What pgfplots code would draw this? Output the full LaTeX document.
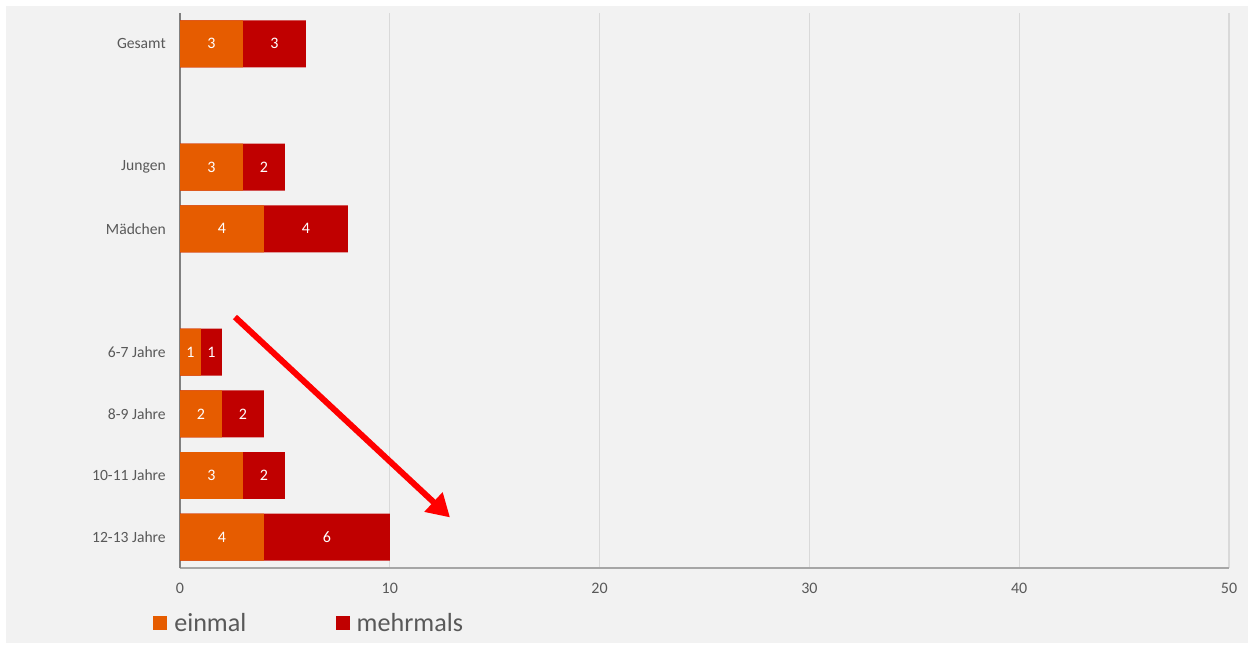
\documentclass[border=0pt]{standalone}
\usepackage{fontspec}
\setmainfont{Carlito}
\usepackage{pgfplots}
\usepackage{pgfplotstable}
\pgfplotsset{compat=1.18}
\usetikzlibrary{arrows.meta}
\definecolor{einmal}{HTML}{E65C00}
\definecolor{mehrmals}{HTML}{C00000}
\definecolor{bg}{HTML}{F2F2F2}
\definecolor{txt}{HTML}{595959}
\definecolor{gridc}{HTML}{D9D9D9}
\definecolor{xax}{HTML}{A6A6A6}
\definecolor{yax}{HTML}{808080}

\pgfplotstableread{
y einmal mehrmals
8 3 3
6 3 2
5 4 4
3 1 1
2 2 2
1 3 2
0 4 6
}\datatable

\pgfplotsset{sqlegend/.style={legend image code/.code={\fill[##1] (0pt,-5.25pt) rectangle (10.5pt,5.25pt);}}}

\begin{document}
\begin{tikzpicture}
\fill[white] (0pt,0pt) rectangle (938.25pt,484.5pt);
\fill[bg] (4.5pt,2.25pt) rectangle (936pt,480pt);
\begin{axis}[
  /pgf/number format/assume math mode=true,
  at={(135pt,58.5pt)}, anchor=south west,
  scale only axis, width=786.75pt, height=416.25pt,
  xmin=0, xmax=50, ymin=-0.5, ymax=8.5,
  xtick={0,10,...,50}, ytick={0,1,2,3,5,6,8},
  yticklabels={12-13 Jahre,10-11 Jahre,8-9 Jahre,6-7 Jahre,Mädchen,Jungen,Gesamt},
  major tick length=0pt,
  xmajorgrids, grid style={gridc, line width=0.9pt},
  axis x line=bottom, axis y line=left, axis line style={-},
  x axis line style={color=xax, line width=1.6pt},
  y axis line style={color=yax, line width=1pt},
  tick label style={text=txt},
  yticklabel style={font=\fontsize{11.7}{14}\selectfont, inner sep=0pt, xshift=-10.5pt},
  xticklabel style={font=\fontsize{12}{14}\selectfont, inner sep=0pt, yshift=-11pt},
  bar width=0.76,
  legend columns=2, reverse legend,
  legend style={at={(0,0)}, anchor=west, xshift=-20.25pt, yshift=-41.25pt,
    draw=none, fill=none, inner sep=0pt,
    font=\fontsize{19.6}{22}\selectfont, text=txt, nodes={inner sep=0pt},
    /tikz/every odd column/.style={column sep=5.25pt},
    /tikz/every even column/.style={column sep=67pt}},
]
\addplot[xbar, bar shift=0pt, fill=mehrmals, draw=none, sqlegend]
  table[x expr=\thisrow{einmal}+\thisrow{mehrmals}, y=y]{\datatable};
\addlegendentry{mehrmals}
\addplot[xbar, bar shift=0pt, fill=einmal, draw=none, sqlegend]
  table[x=einmal, y=y]{\datatable};
\addlegendentry{einmal}

\addplot[forget plot, draw=none, mark=none, nodes near coords, point meta=explicit,
  every node near coord/.style={anchor=center, text=white, font=\fontsize{12}{14}\selectfont}]
  table[x expr=\thisrow{einmal}/2, y=y, meta=einmal]{\datatable};
\addplot[forget plot, draw=none, mark=none, nodes near coords, point meta=explicit,
  every node near coord/.style={anchor=center, text=white, font=\fontsize{12}{14}\selectfont}]
  table[x expr=\thisrow{einmal}+\thisrow{mehrmals}/2, y=y, meta=mehrmals]{\datatable};

\draw[red, line width=4.5pt, -{Triangle[length=17pt,width=19pt]}]
  (axis cs:2.62,3.57) -- (axis cs:12.87,0.32);
\end{axis}
\end{tikzpicture}
\end{document}
